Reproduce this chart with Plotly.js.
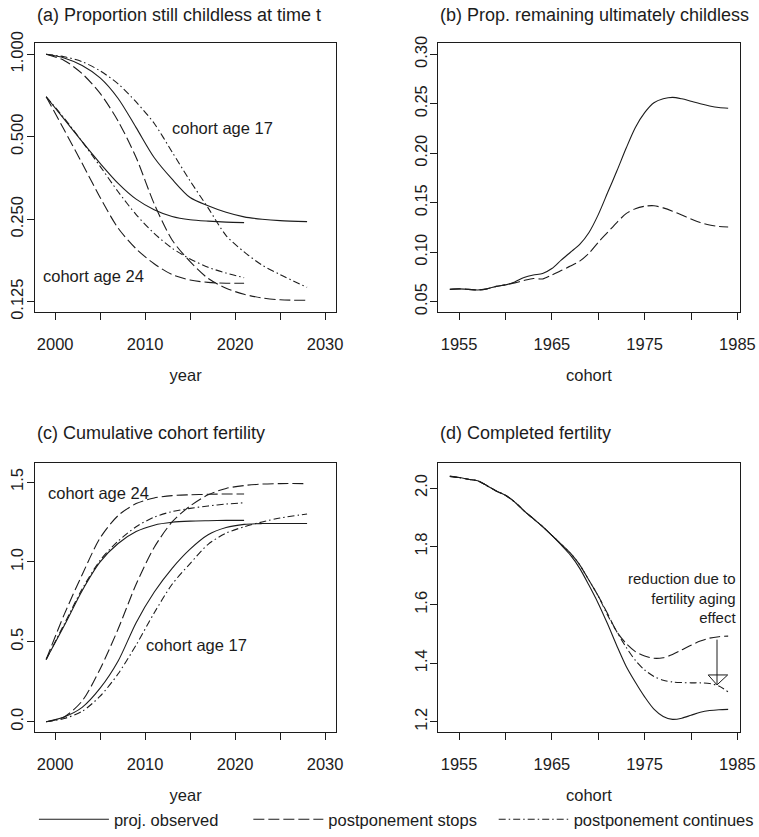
<!DOCTYPE html>
<html>
<head>
<meta charset="utf-8">
<script src="https://cdn.plot.ly/plotly-3.0.1.min.js"></script>
<style>html,body{margin:0;padding:0;background:#fff}#chart{width:759px;height:837px}</style>
</head>
<body>
<div id="chart"></div>
<script>
// ---------- data ----------
var years17 = [1999, 2001, 2003, 2005, 2007, 2009, 2011, 2013, 2015, 2017, 2019, 2021, 2023, 2025, 2028];
var years24 = [1999, 2001, 2003, 2005, 2007, 2009, 2011, 2013, 2015, 2017, 2019, 2021];

// (a) proportion still childless at time t (log scale)
var a17Observed = [1.0, 0.97, 0.91, 0.82, 0.69, 0.54, 0.42, 0.35, 0.30, 0.28, 0.265, 0.255, 0.25, 0.247, 0.245];
var a17Stops    = [1.0, 0.95, 0.85, 0.72, 0.57, 0.42, 0.285, 0.21, 0.175, 0.152, 0.14, 0.133, 0.129, 0.127, 0.1265];
var a17Cont     = [1.0, 0.98, 0.94, 0.87, 0.78, 0.67, 0.56, 0.44, 0.345, 0.275, 0.218, 0.19, 0.17, 0.157, 0.141];
var a24Observed = [0.70, 0.58, 0.48, 0.40, 0.338, 0.296, 0.271, 0.256, 0.249, 0.246, 0.244, 0.243];
var a24Stops    = [0.70, 0.53, 0.40, 0.30, 0.232, 0.195, 0.172, 0.157, 0.150, 0.147, 0.146, 0.146];
var a24Cont     = [0.70, 0.585, 0.48, 0.39, 0.315, 0.26, 0.222, 0.196, 0.179, 0.167, 0.159, 0.153];

// (b) proportion remaining ultimately childless, by cohort
var cohorts = [1954,1955,1956,1957,1958,1959,1960,1961,1962,1963,1964,1965,1966,1967,1968,1969,1970,1971,1972,1973,1974,1975,1976,1977,1978,1979,1980,1981,1982,1983,1984];
var bObserved = [0.0625,0.063,0.0625,0.0618,0.063,0.0655,0.067,0.070,0.0745,0.077,0.0785,0.0835,0.092,0.100,0.108,0.120,0.138,0.160,0.182,0.205,0.226,0.241,0.251,0.255,0.2565,0.255,0.2525,0.250,0.2478,0.2462,0.2455];
var bStops    = [0.0625,0.063,0.0625,0.0618,0.063,0.0655,0.067,0.069,0.0715,0.0735,0.073,0.077,0.0815,0.086,0.091,0.099,0.110,0.120,0.130,0.139,0.144,0.1465,0.147,0.1448,0.1415,0.1375,0.1335,0.130,0.1275,0.126,0.1255];

// (c) cumulative cohort fertility
var c17Observed = [0.0, 0.03, 0.09, 0.21, 0.38, 0.62, 0.81, 0.96, 1.08, 1.17, 1.215, 1.235, 1.24, 1.24, 1.24];
var c17Stops    = [0.0, 0.03, 0.13, 0.33, 0.58, 0.86, 1.09, 1.25, 1.35, 1.42, 1.46, 1.478, 1.487, 1.49, 1.49];
var c17Cont     = [0.0, 0.02, 0.065, 0.16, 0.30, 0.48, 0.68, 0.86, 0.99, 1.11, 1.18, 1.22, 1.25, 1.275, 1.30];
var c24Observed = [0.39, 0.60, 0.82, 1.00, 1.115, 1.19, 1.23, 1.248, 1.255, 1.258, 1.26, 1.26];
var c24Stops    = [0.39, 0.67, 0.92, 1.15, 1.29, 1.365, 1.40, 1.415, 1.42, 1.423, 1.425, 1.425];
var c24Cont     = [0.39, 0.61, 0.83, 1.01, 1.13, 1.22, 1.28, 1.315, 1.335, 1.35, 1.362, 1.37];

// (d) completed fertility
var dObserved = [2.04,2.036,2.03,2.025,2.008,1.99,1.975,1.952,1.922,1.895,1.868,1.838,1.805,1.77,1.725,1.667,1.605,1.535,1.46,1.39,1.335,1.285,1.243,1.218,1.208,1.212,1.222,1.232,1.238,1.241,1.242];
var dStops    = [2.04,2.036,2.03,2.025,2.008,1.99,1.975,1.952,1.922,1.895,1.868,1.838,1.808,1.777,1.737,1.684,1.63,1.57,1.508,1.468,1.44,1.425,1.417,1.419,1.43,1.446,1.462,1.476,1.486,1.491,1.493];
var dCont     = [2.04,2.036,2.03,2.025,2.008,1.99,1.975,1.952,1.922,1.895,1.868,1.838,1.808,1.777,1.737,1.684,1.63,1.565,1.508,1.455,1.41,1.377,1.355,1.342,1.336,1.334,1.333,1.333,1.331,1.322,1.302];

// arrow in (d)
var arrowCohort = 1982.8, arrowFrom = 1.486, arrowTo = 1.326;

// labels
var seriesNames = ["proj. observed", "postponement stops", "postponement continues"];
var panelTitles = ["(a) Proportion still childless at time t", "(b) Prop. remaining ultimately childless", "(c) Cumulative cohort fertility", "(d) Completed fertility"];
var noteText = "reduction due to<br>fertility aging<br>effect";
var yearTicks = [2000, 2005, 2010, 2015, 2020, 2025, 2030];
var yearTickText = ["2000", "", "2010", "", "2020", "", "2030"];
var cohortTicks = [1955, 1960, 1965, 1970, 1975, 1980, 1985];
var cohortTickText = ["1955", "", "1965", "", "1975", "", "1985"];
var aTicks = [0.125, 0.25, 0.5, 1.0];
var aTickText = ["0.125", "0.250", "0.500", "1.000"];
var bTicks = [0.05, 0.10, 0.15, 0.20, 0.25, 0.30];
var bTickText = ["0.05", "0.10", "0.15", "0.20", "0.25", "0.30"];
var cTicks = [0.0, 0.5, 1.0, 1.5];
var cTickText = ["0.0", "0.5", "1.0", "1.5"];
var dTicks = [1.2, 1.4, 1.6, 1.8, 2.0];
var dTickText = ["1.2", "1.4", "1.6", "1.8", "2.0"];

// ---------- styles ----------
var FONT = "Liberation Sans, Arial, Helvetica, sans-serif";
var INK = "#1c1c1c";
var W = 759, H = 837;
var dashes = ["solid", "11px,4px", "7px,3px,1.5px,3px"];
var legendIds = ["legend", "legend2", "legend3"];

function tr(x, y, style, xa, ya, showLeg) {
  return {
    x: x, y: y, type: "scatter", mode: "lines",
    line: {color: INK, width: 1.1, dash: dashes[style], shape: "spline", smoothing: 0.8},
    xaxis: xa, yaxis: ya, name: seriesNames[style],
    showlegend: !!showLeg, legend: legendIds[style], hoverinfo: "skip"
  };
}

var data = [
  tr(years17, a17Observed, 0, "x", "y", true),
  tr(years17, a17Stops, 1, "x", "y", true),
  tr(years17, a17Cont, 2, "x", "y", true),
  tr(years24, a24Observed, 0, "x", "y"),
  tr(years24, a24Stops, 1, "x", "y"),
  tr(years24, a24Cont, 2, "x", "y"),
  tr(cohorts, bObserved, 0, "x2", "y2"),
  tr(cohorts, bStops, 1, "x2", "y2"),
  tr(years17, c17Observed, 0, "x3", "y3"),
  tr(years17, c17Stops, 1, "x3", "y3"),
  tr(years17, c17Cont, 2, "x3", "y3"),
  tr(years24, c24Observed, 0, "x3", "y3"),
  tr(years24, c24Stops, 1, "x3", "y3"),
  tr(years24, c24Cont, 2, "x3", "y3"),
  tr(cohorts, dObserved, 0, "x4", "y4"),
  tr(cohorts, dStops, 1, "x4", "y4"),
  tr(cohorts, dCont, 2, "x4", "y4")
];

function px(v) { return v / W; }
function py(v) { return 1 - v / H; }

var colA = [px(35), px(337.3)], colB = [px(439.3), px(741.7)];
var rowTop = [py(311.7), py(43.3)], rowBot = [py(731.7), py(463)];

function xax(domain, range, ticks, text, anchor, title) {
  return {
    domain: domain, range: range, anchor: anchor,
    tickvals: ticks, ticktext: text, ticks: "outside", ticklen: 7, tickwidth: 1, tickcolor: INK,
    showline: true, mirror: true, linecolor: INK, linewidth: 1,
    showgrid: false, zeroline: false, ticklabelstandoff: 10,
    tickfont: {family: FONT, size: 16.5, color: INK},
    title: {text: title, font: {family: FONT, size: 16.5, color: INK}, standoff: 17},
    automargin: false, fixedrange: true
  };
}
function yax(domain, range, ticks, text, anchor, type) {
  var o = {
    domain: domain, range: range, anchor: anchor,
    tickvals: ticks, ticktext: text, ticks: "outside", ticklen: 7, tickwidth: 1, tickcolor: INK,
    showline: true, mirror: true, linecolor: INK, linewidth: 1,
    showgrid: false, zeroline: false, tickangle: -90, ticklabelstandoff: -3,
    tickfont: {family: FONT, size: 16.5, color: INK},
    automargin: false, fixedrange: true
  };
  if (type) o.type = type;
  return o;
}

function txt(text, x, y, xref, yref, xanchor, yanchor, size) {
  return {text: text, x: x, y: y, xref: xref, yref: yref, xanchor: xanchor, yanchor: yanchor,
    showarrow: false, font: {family: FONT, size: size || 16.5, color: INK}};
}

var note = txt(noteText, 1985.1, 1.6229, "x4", "y4", "right", "middle", 15);
note.align = "right";

var annotations = [
  txt(panelTitles[0], px(35), py(15), "paper", "paper", "left", "middle", 18),
  txt(panelTitles[1], px(439.3), py(15), "paper", "paper", "left", "middle", 18),
  txt(panelTitles[2], px(35), py(433.3), "paper", "paper", "left", "middle", 18),
  txt(panelTitles[3], px(439.3), py(433.3), "paper", "paper", "left", "middle", 18),
  txt("cohort age 17", 2018.56, Math.log10(0.5366), "x", "y", "center", "middle"),
  txt("cohort age 24", 2004.3, Math.log10(0.155), "x", "y", "center", "middle"),
  txt("cohort age 24", 2004.82, 1.431, "x3", "y3", "center", "middle"),
  txt("cohort age 17", 2015.66, 0.479, "x3", "y3", "center", "middle"),
  note,
  {x: arrowCohort, y: arrowTo, ax: arrowCohort, ay: arrowFrom, xref: "x4", yref: "y4", axref: "x4", ayref: "y4",
   showarrow: true, arrowhead: 0, arrowwidth: 1, arrowcolor: INK, text: ""}
];

var shapes = [
  {type: "path", xref: "x4", yref: "y4",
   path: "M " + (arrowCohort - 0.95) + " " + (arrowTo + 0.034) + " L " + (arrowCohort + 1.15) + " " + (arrowTo + 0.034) + " L " + arrowCohort + " " + arrowTo + " Z",
   line: {color: INK, width: 1}, fillcolor: "rgba(0,0,0,0)"}
];

function leg(xpx) {
  return {x: px(xpx), y: 0, xanchor: "left", yanchor: "bottom", orientation: "h",
    bgcolor: "rgba(0,0,0,0)", borderwidth: 0, itemwidth: 70,
    font: {family: FONT, size: 16.5, color: INK}, itemclick: false, itemdoubleclick: false};
}

var layout = {
  width: W, height: H, margin: {l: 0, r: 0, t: 0, b: 0},
  paper_bgcolor: "#fff", plot_bgcolor: "#fff",
  font: {family: FONT, color: INK},
  xaxis: xax(colA, [1997.75, 2031.26], yearTicks, yearTickText, "y", "year"),
  yaxis: yax(rowTop, [-0.9396, 0.0402], aTicks, aTickText, "x", "log"),
  xaxis2: xax(colB, [1952.74, 1985.25], cohortTicks, cohortTickText, "y2", "cohort"),
  yaxis2: yax(rowTop, [0.0399, 0.3111], bTicks, bTickText, "x2"),
  xaxis3: xax(colA, [1997.75, 2031.26], yearTicks, yearTickText, "y3", "year"),
  yaxis3: yax(rowBot, [-0.0625, 1.619], cTicks, cTickText, "x3"),
  xaxis4: xax(colB, [1952.74, 1985.25], cohortTicks, cohortTickText, "y4", "cohort"),
  yaxis4: yax(rowBot, [1.1657, 2.0857], dTicks, dTickText, "x4"),
  annotations: annotations,
  shapes: shapes,
  legend: leg(34),
  legend2: leg(249),
  legend3: leg(495)
};

Plotly.newPlot("chart", data, layout, {staticPlot: true, displayModeBar: false});
</script>
</body>
</html>
